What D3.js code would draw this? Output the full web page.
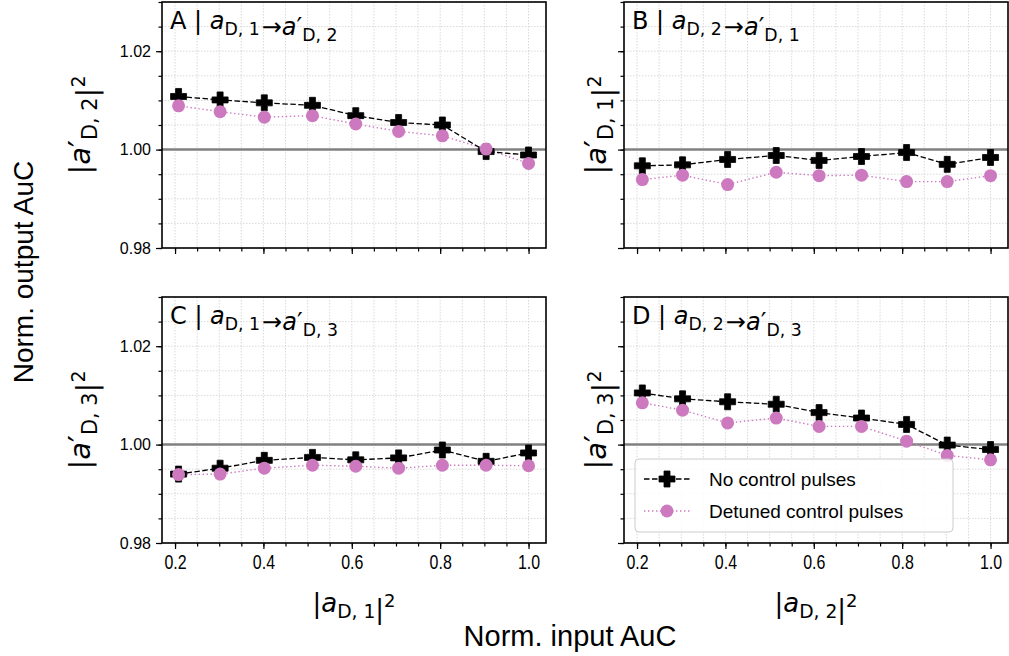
<!DOCTYPE html>
<html>
<head>
<meta charset="utf-8">
<script src="https://cdn.jsdelivr.net/npm/d3@7"></script>
<style>
  body { margin: 0; background: #fff; }
  svg text { font-family: "Liberation Sans", Arial, sans-serif; }
</style>
</head>
<body>
<div id="chart"></div>
<script>
// input AuC positions (panels A, C use a_D,1; panels B, D use a_D,2)
const xD1 = [0.208, 0.302, 0.402, 0.511, 0.609, 0.706, 0.805, 0.904, 1.0];
const xD2 = [0.212, 0.303, 0.405, 0.515, 0.612, 0.708, 0.810, 0.902, 1.0];

// normalised output AuC
const aNoCtrl  = [1.0108, 1.0101, 1.0095, 1.0090, 1.0069, 1.0055, 1.0050, 0.9996, 0.9989];
const aDetuned = [1.0089, 1.0077, 1.0066, 1.0069, 1.0052, 1.0037, 1.0028, 1.0001, 0.9972];
const bNoCtrl  = [0.9967, 0.9969, 0.9980, 0.9988, 0.9978, 0.9986, 0.9994, 0.9970, 0.9984];
const bDetuned = [0.9939, 0.9948, 0.9929, 0.9954, 0.9947, 0.9948, 0.9935, 0.9935, 0.9947];
const cNoCtrl  = [0.9940, 0.9952, 0.9968, 0.9974, 0.9969, 0.9973, 0.9989, 0.9966, 0.9983];
const cDetuned = [0.9939, 0.9940, 0.9952, 0.9958, 0.9956, 0.9952, 0.9958, 0.9958, 0.9957];
const dNoCtrl  = [1.0105, 1.0093, 1.0087, 1.0082, 1.0065, 1.0054, 1.0041, 0.9999, 0.9990];
const dDetuned = [1.0085, 1.0070, 1.0044, 1.0054, 1.0037, 1.0037, 1.0007, 0.9978, 0.9969];

const xTicks = [0.2, 0.4, 0.6, 0.8, 1.0];
const yTicks = [0.98, 1.00, 1.02];
const seriesNames = ["No control pulses", "Detuned control pulses"];

const W = 1009, H = 656;
const pink = "#cc79bf";

const svg = d3.select("#chart").append("svg")
  .attr("width", W).attr("height", H);

// panel boxes
const panels = [
  {letter: "A", x0: 162, y0: 2,   inSub: "D, 1", outSub: "D, 2", xs: xD1, no: aNoCtrl, det: aDetuned, xlab: false, ylab: true},
  {letter: "B", x0: 624, y0: 2,   inSub: "D, 2", outSub: "D, 1", xs: xD2, no: bNoCtrl, det: bDetuned, xlab: false, ylab: false},
  {letter: "C", x0: 162, y0: 297, inSub: "D, 1", outSub: "D, 3", xs: xD1, no: cNoCtrl, det: cDetuned, xlab: true, ylab: true},
  {letter: "D", x0: 624, y0: 297, inSub: "D, 2", outSub: "D, 3", xs: xD2, no: dNoCtrl, det: dDetuned, xlab: true, ylab: false}
];
const pw = 384, ph = 246;

const plusPath = "M-3,-8H3V-3H8V3H3V8H-3V3H-8V-3H-3Z";

// math piece: italic a, optional prime, subscript
function mathA(sel, prime, sub, size) {
  sel.append("tspan").attr("font-family", "DejaVu Sans").attr("font-style", "italic").text("a");
  if (prime) sel.append("tspan").attr("font-family", "DejaVu Sans").attr("font-size", size * 1.05).text("\u2032");
  sel.append("tspan").attr("font-family", "DejaVu Sans").attr("font-size", size * 0.72)
    .attr("dy", size * 0.24).text(sub);
  sel.append("tspan").attr("dy", -size * 0.24).text("");
}

panels.forEach(function(p) {
  const x = d3.scaleLinear().domain([0.1705, 1.0395]).range([p.x0, p.x0 + pw]);
  const y = d3.scaleLinear().domain([0.98, 1.03]).range([p.y0 + ph, p.y0]);
  const g = svg.append("g");

  // grid (major + minor)
  const gx = d3.range(0.2, 1.0001, 0.05);
  const gy = d3.range(0.98, 1.0301, 0.005);
  g.selectAll(null).data(gx).join("line")
    .attr("x1", d => x(d)).attr("x2", d => x(d))
    .attr("y1", p.y0).attr("y2", p.y0 + ph)
    .attr("stroke", "#cfcfcf").attr("stroke-width", 0.8).attr("stroke-dasharray", "1.5,1.5");
  g.selectAll(null).data(gy).join("line")
    .attr("x1", p.x0).attr("x2", p.x0 + pw)
    .attr("y1", d => y(d)).attr("y2", d => y(d))
    .attr("stroke", "#cfcfcf").attr("stroke-width", 0.8).attr("stroke-dasharray", "1.5,1.5");

  // reference at 1.00
  g.append("line")
    .attr("x1", p.x0).attr("x2", p.x0 + pw)
    .attr("y1", y(1.0)).attr("y2", y(1.0))
    .attr("stroke", "#808080").attr("stroke-width", 2.5);

  // axes
  const xMinor = g.append("g").attr("transform", `translate(0,${p.y0 + ph})`)
    .call(d3.axisBottom(x).tickValues(d3.range(0.2, 1.0001, 0.05)).tickSize(3.5).tickFormat(""));
  const xMajor = g.append("g").attr("transform", `translate(0,${p.y0 + ph})`)
    .call(d3.axisBottom(x).tickValues(xTicks).tickSize(6).tickPadding(5)
      .tickFormat(p.xlab ? d3.format(".1f") : ""));
  const yMinor = g.append("g").attr("transform", `translate(${p.x0},0)`)
    .call(d3.axisLeft(y).tickValues(d3.range(0.98, 1.0301, 0.005)).tickSize(3.5).tickFormat(""));
  const yMajor = g.append("g").attr("transform", `translate(${p.x0},0)`)
    .call(d3.axisLeft(y).tickValues(yTicks).tickSize(6).tickPadding(5)
      .tickFormat(p.ylab ? d3.format(".2f") : ""));
  [xMinor, xMajor, yMinor, yMajor].forEach(a => {
    a.select(".domain").remove();
    a.selectAll("line").attr("stroke", "#000").attr("stroke-width", 1.2);
  });
  xMajor.selectAll("text").attr("fill", "#000")
    .style("font-size", "21px")
    .attr("transform", "scale(0.76,1)")
    .style("font-family", "'Liberation Sans', Arial").attr("dy", "0.72em");
  yMajor.selectAll("text").attr("fill", "#000").style("font-size", "16px")
    .style("font-family", "'Liberation Sans', Arial");

  // frame
  g.append("rect")
    .attr("x", p.x0).attr("y", p.y0).attr("width", pw).attr("height", ph)
    .attr("fill", "none").attr("stroke", "#000").attr("stroke-width", 1.6);

  // series
  const line = d3.line().x(d => x(d[0])).y(d => y(d[1]));
  const detPts = p.xs.map((v, i) => [v, p.det[i]]);
  const noPts = p.xs.map((v, i) => [v, p.no[i]]);

  g.append("path").datum(detPts).attr("d", line)
    .attr("fill", "none").attr("stroke", pink).attr("stroke-width", 1.4).attr("stroke-dasharray", "1.4,2.6");
  g.append("path").datum(noPts).attr("d", line)
    .attr("fill", "none").attr("stroke", "#000").attr("stroke-width", 1.3).attr("stroke-dasharray", "5.5,2.5");

  g.selectAll(null).data(noPts).join("path")
    .attr("d", plusPath)
    .attr("transform", d => `translate(${x(d[0])},${y(d[1])})`)
    .attr("fill", "#000").attr("stroke", "#000").attr("stroke-width", 0.8);
  g.selectAll(null).data(detPts).join("circle")
    .attr("cx", d => x(d[0])).attr("cy", d => y(d[1])).attr("r", 6.5)
    .attr("fill", pink);

  // panel title
  const t = g.append("text").attr("x", p.x0 + 8).attr("y", p.y0 + 27)
    .attr("font-size", 24).attr("fill", "#000").style("font-family", "'DejaVu Sans'");
  t.append("tspan").text(p.letter + " | ");
  mathA(t, false, p.inSub, 24);
  t.append("tspan").attr("dx", 2).text("\u2192");
  mathA(t, true, p.outSub, 24);

  // y label
  const yl = g.append("text")
    .attr("transform", `translate(${p.ylab ? p.x0 - 72 : p.x0 - 18},${p.y0 + ph / 2}) rotate(-90)`)
    .attr("text-anchor", "middle").attr("font-size", 29).attr("fill", "#000")
    .style("font-family", "'DejaVu Sans'");
  yl.append("tspan").text("|");
  mathA(yl, true, p.outSub, 29);
  yl.append("tspan").text("|");
  yl.append("tspan").attr("font-size", 19).attr("dy", -12).text("2");

  // x label
  if (p.xlab) {
    const xl = g.append("text")
      .attr("x", p.x0 + 192).attr("y", 612)
      .attr("text-anchor", "middle").attr("font-size", 26).attr("fill", "#000")
      .style("font-family", "'DejaVu Sans'");
    xl.append("tspan").text("|");
    mathA(xl, false, p.inSub, 26);
    xl.append("tspan").text("|");
    xl.append("tspan").attr("font-size", 18).attr("dy", -11).text("2");
  }

  // legend in panel D
  if (p.letter === "D") {
    const lg = g.append("g");
    lg.append("rect").attr("x", 635).attr("y", 459).attr("width", 318).attr("height", 73)
      .attr("rx", 4).attr("fill", "#fff").attr("fill-opacity", 0.85)
      .attr("stroke", "#cccccc").attr("stroke-width", 1);
    const rows = [
      {name: seriesNames[0], yy: 479, color: "#000", dash: "5.5,2.5", mark: "plus"},
      {name: seriesNames[1], yy: 511, color: pink, dash: "1.4,2.6", mark: "circle"}
    ];
    rows.forEach(r => {
      lg.append("line").attr("x1", 644).attr("x2", 690).attr("y1", r.yy).attr("y2", r.yy)
        .attr("stroke", r.color).attr("stroke-width", 1.4).attr("stroke-dasharray", r.dash);
      if (r.mark === "plus") {
        lg.append("path").attr("d", plusPath).attr("transform", `translate(667,${r.yy})`)
          .attr("fill", "#000").attr("stroke", "#000").attr("stroke-width", 0.8);
      } else {
        lg.append("circle").attr("cx", 667).attr("cy", r.yy).attr("r", 6.5).attr("fill", pink);
      }
      lg.append("text").attr("x", 709).attr("y", r.yy + 7).attr("font-size", 19)
        .attr("fill", "#000").text(r.name);
    });
  }
});

// shared labels
svg.append("text")
  .attr("transform", "translate(33,272) rotate(-90)")
  .attr("text-anchor", "middle").attr("font-size", 28).attr("fill", "#000")
  .text("Norm. output AuC");
svg.append("text")
  .attr("x", 570).attr("y", 646)
  .attr("text-anchor", "middle").attr("font-size", 29).attr("fill", "#000")
  .text("Norm. input AuC");
</script>
</body>
</html>
